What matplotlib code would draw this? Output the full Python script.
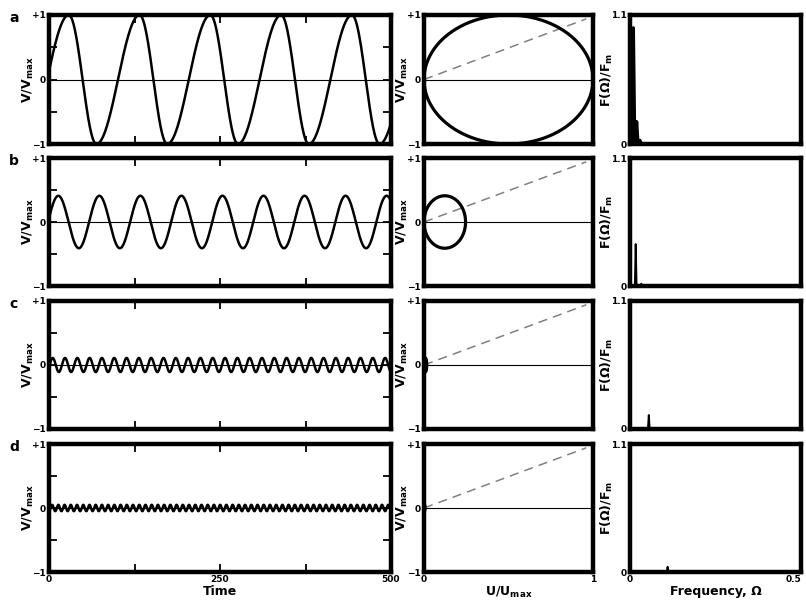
import numpy as np
import matplotlib
matplotlib.use('Agg')
import matplotlib.pyplot as plt

plt.rcParams['font.family'] = ['DejaVu Sans']
plt.rcParams['font.weight'] = 'bold'
plt.rcParams['axes.labelweight'] = 'bold'
plt.rcParams['mathtext.fontset'] = 'dejavusans'
plt.rcParams['mathtext.default'] = 'bf'

# values, one entry per row a-d
row_names = ['a', 'b', 'c', 'd']
wave_amp = [1.0, 0.41, 0.11, 0.05]
wave_period = [103.5, 60.0, 18.0, 9.1]
wave_rise_frac = [0.61, 0.5, 0.5, 0.5]
wave_first_trough = [-34.2, -16.4, -3.6, 0.0]
loop_u_width = [1.0, 0.246, 0.016, 0.006]
spec_freq = [[0.0097, 0.0193, 0.029], [0.0167, 0.033], [0.055], [0.11]]
spec_height = [[0.99, 0.19, 0.03], [0.36, 0.02], [0.12], [0.045]]
dash_end = [0.96, 0.94]

time_ticks = [0, 250, 500]
time_minor = [125, 375]
v_ticks = [-1, 0, 1]
v_ticklabels = ['\u22121', '0', '+1']
u_ticks = [0, 1]
u_ticklabels = ['0', '1']
f_ticks = [0, 0.5]
f_ticklabels = ['0', '0.5']
s_ticks = [0, 1.1]
s_ticklabels = ['0', '1.1']

W, H = 806, 604
col_px = [(49, 391), (424, 593), (630, 801)]
row_px = [(15, 144), (158, 286), (301, 429), (444, 572)]

fig = plt.figure(figsize=(W / 100, H / 100), dpi=100)

t = np.linspace(0, 500, 5000)
psi = np.linspace(0, 2 * np.pi, 400)


def wave(amp, P, r, t0):
    s = (t - t0) % P
    rp = r * P
    return amp * np.where(s < rp, -np.cos(np.pi * s / rp),
                          np.cos(np.pi * (s - rp) / (P - rp)))


def style(ax):
    for sp in ax.spines.values():
        sp.set_linewidth(3.2)
    ax.tick_params(labelsize=6.5, pad=2)


for i, name in enumerate(row_names):
    y0, y1 = row_px[i]
    last = i == len(row_names) - 1
    axes = []
    for x0, x1 in col_px:
        axes.append(fig.add_axes([x0 / W, 1 - y1 / H, (x1 - x0) / W, (y1 - y0) / H]))
    ax1, ax2, ax3 = axes

    # time series
    v = wave(wave_amp[i], wave_period[i], wave_rise_frac[i], wave_first_trough[i])
    ax1.axhline(0, color='black', lw=0.8)
    ax1.plot(t, v, color='black', lw=1.8)
    ax1.set_xlim(0, 500)
    ax1.set_ylim(-1, 1)
    ax1.set_xticks(time_ticks)
    ax1.set_xticks(time_minor, minor=True)
    ax1.set_yticks(v_ticks)
    ax1.set_yticks([-0.5, 0.5], minor=True)
    ax1.set_yticklabels(v_ticklabels)
    ax1.tick_params(which='both', direction='in', top=True, right=True,
                    length=6, width=1.3)
    style(ax1)
    ax1.set_ylabel('V/V$_{max}$', fontsize=9)
    ax1.yaxis.set_label_coords(-0.038, 0.5)

    # phase loop
    w = loop_u_width[i]
    ax2.axhline(0, color='black', lw=0.8)
    ax2.plot([0, dash_end[0]], [0, dash_end[1]], color='gray', lw=1.1,
             dashes=(6, 4))
    ax2.plot(w / 2 * (1 - np.cos(psi)), wave_amp[i] * np.sin(psi),
             color='black', lw=2.3)
    ax2.set_xlim(0, 1)
    ax2.set_ylim(-1, 1)
    ax2.set_xticks(u_ticks)
    ax2.set_yticks(v_ticks)
    ax2.set_yticklabels(v_ticklabels)
    ax2.tick_params(length=0)
    style(ax2)
    ax2.set_ylabel('V/V$_{max}$', fontsize=9)
    ax2.yaxis.set_label_coords(-0.08, 0.5)

    # spectrum
    fx, fy = [0.0], [0.0]
    d = 0.004 if i == 0 else 0.0025
    for f, h in zip(spec_freq[i], spec_height[i]):
        fx += [f - d, f, f + d]
        fy += [0, h, 0]
    fx.append(0.5)
    fy.append(0)
    ax3.plot(fx, fy, color='black', lw=2.4 if i == 0 else 1.4)
    ax3.set_xlim(0, 0.5)
    ax3.set_ylim(0, 1.1)
    ax3.set_xticks(f_ticks)
    ax3.set_yticks(s_ticks)
    ax3.set_yticklabels(s_ticklabels)
    ax3.tick_params(length=0)
    style(ax3)
    ax3.set_ylabel('F(\u03a9)/F$_m$', fontsize=9)
    ax3.yaxis.set_label_coords(-0.09, 0.5)

    if last:
        ax1.set_xticklabels([str(x) for x in time_ticks])
        ax2.set_xticklabels(u_ticklabels)
        ax3.set_xticklabels(f_ticklabels)
        ax3.get_xticklabels()[-1].set_horizontalalignment('right')
        ax1.set_xlabel('Time', fontsize=9, labelpad=1)
        ax2.set_xlabel('U/U$_{max}$', fontsize=9, labelpad=1)
        ax3.set_xlabel('Frequency, \u03a9', fontsize=9, labelpad=1)
    else:
        for ax in axes:
            ax.set_xticklabels([])

    fig.text(14 / W, 1 - (y0 + 3) / H, name, fontsize=10, fontweight='bold',
             ha='center', va='center')

fig.savefig('out.png', dpi=100)
